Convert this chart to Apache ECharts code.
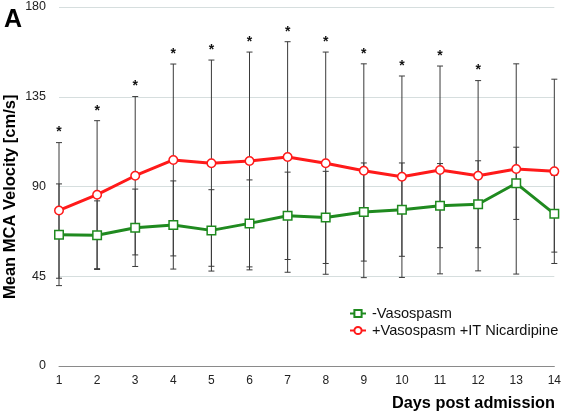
<!DOCTYPE html>
<html>
<head>
<meta charset="utf-8">
<script src="https://cdn.jsdelivr.net/npm/echarts@6/dist/echarts.min.js"></script>
<style>
html,body{margin:0;padding:0;background:#fff;}
#chart{width:564px;height:416px;}
</style>
</head>
<body>
<div id="chart"></div>
<script>
// ---- data ----
const days = [1, 2, 3, 4, 5, 6, 7, 8, 9, 10, 11, 12, 13, 14];
const yTicks = [0, 45, 90, 135, 180];
const nicardipineMean = [78.0, 85.9, 95.4, 103.3, 101.7, 102.8, 104.8, 101.7, 97.9, 94.9, 98.3, 95.4, 98.8, 97.6];
const nicardipineErr  = [34.0, 37.1, 39.7, 48.1, 51.7, 54.6, 57.8, 55.7, 53.6, 50.5, 52.1, 47.7, 52.7, 46.2];
const noSpasmMean = [65.8, 65.6, 69.3, 70.7, 68.0, 71.5, 75.3, 74.5, 77.2, 78.4, 80.4, 81.1, 91.6, 76.3];
const noSpasmErr  = [25.5, 17.2, 19.4, 22.1, 20.4, 21.8, 21.9, 23.1, 24.6, 23.4, 21.1, 21.8, 18.1, 19.2];
const significant = [1, 1, 1, 1, 1, 1, 1, 1, 1, 1, 1, 1, 0, 0];
const seriesNames = ['-Vasospasm', '+Vasospasm +IT Nicardipine'];

const FONT = '"Liberation Sans", Arial, Helvetica, sans-serif';
const GREEN = '#1f8a1f';
const RED = '#ff1a1a';

const pairs = (means) => days.map((d, i) => [d, means[i]]);
const errData = (means, errs) => days.map((d, i) => [d, means[i] - errs[i], means[i] + errs[i]]);
const starData = days.map((d, i) => [d, nicardipineMean[i] + nicardipineErr[i]]).filter((_, i) => significant[i]);

function errRender(params, api) {
  const x = api.value(0), lo = api.value(1), hi = api.value(2);
  const pHi = api.coord([x, hi]), pLo = api.coord([x, lo]);
  const w = 3;
  const st = { stroke: '#3a3a3a', lineWidth: 1 };
  return {
    type: 'group',
    children: [
      { type: 'line', shape: { x1: pHi[0], y1: pHi[1], x2: pLo[0], y2: pLo[1] }, style: st },
      { type: 'line', shape: { x1: pHi[0] - w, y1: pHi[1], x2: pHi[0] + w, y2: pHi[1] }, style: st },
      { type: 'line', shape: { x1: pLo[0] - w, y1: pLo[1], x2: pLo[0] + w, y2: pLo[1] }, style: st }
    ]
  };
}

function starRender(params, api) {
  const p = api.coord([api.value(0), api.value(1)]);
  return {
    type: 'text',
    x: p[0], y: p[1] - 3,
    style: { text: '*', fill: '#111', font: 'bold 14px ' + FONT, align: 'center', verticalAlign: 'bottom' }
  };
}

const chart = echarts.init(document.getElementById('chart'), null, { renderer: 'canvas' });
chart.setOption({
  animation: false,
  backgroundColor: '#fff',
  grid: { left: 59, right: 6, top: 7, bottom: 50, containLabel: false },
  graphic: [
    { type: 'text', left: 4, top: 8, style: { text: 'A', font: 'bold 25px ' + FONT, fill: '#000' } },
    { type: 'text', left: 392, top: 396, style: { text: 'Days post admission', font: 'bold 16.3px ' + FONT, fill: '#000' } },
    { type: 'text', x: 2, y: 299, rotation: Math.PI / 2, style: { text: 'Mean MCA Velocity [cm/s]', font: 'bold 16.5px ' + FONT, fill: '#000', verticalAlign: 'top', align: 'left' }, originX: 0, originY: 0 }
  ],
  legend: {
    orient: 'vertical',
    left: 344,
    top: 301,
    itemGap: 2,
    itemWidth: 16,
    itemHeight: 9,
    data: seriesNames,
    textStyle: { fontFamily: FONT, fontSize: 14.6, color: '#111', padding: [0, 0, 0, 1] }
  },
  xAxis: {
    type: 'value',
    min: 1, max: 14, interval: 1,
    axisLine: { show: true, lineStyle: { color: '#8a8a8a', width: 1 } },
    axisTick: { show: false },
    splitLine: { show: false },
    axisLabel: { margin: 9, fontFamily: FONT, fontSize: 12, color: '#222' }
  },
  yAxis: {
    type: 'value',
    min: yTicks[0], max: yTicks[yTicks.length - 1], interval: 45,
    axisLine: { show: false },
    axisTick: { show: false },
    splitLine: { show: true, lineStyle: { color: '#d6dede', width: 1 } },
    axisLabel: { margin: 13, fontFamily: FONT, fontSize: 12.5, color: '#222' }
  },
  series: [
    { type: 'custom', name: 'errNic', renderItem: errRender, data: errData(nicardipineMean, nicardipineErr), z: 1, silent: true },
    { type: 'custom', name: 'errNo', renderItem: errRender, data: errData(noSpasmMean, noSpasmErr), z: 1, silent: true },
    { type: 'custom', name: 'stars', renderItem: starRender, data: starData, z: 1, silent: true },
    {
      type: 'line', name: seriesNames[0], data: pairs(noSpasmMean), z: 3,
      symbol: 'rect', symbolSize: 8.5, showAllSymbol: true,
      lineStyle: { color: GREEN, width: 3 },
      itemStyle: { color: '#fff', borderColor: GREEN, borderWidth: 1.5 }
    },
    {
      type: 'line', name: seriesNames[1], data: pairs(nicardipineMean), z: 3,
      symbol: 'circle', symbolSize: 8.5, showAllSymbol: true,
      lineStyle: { color: RED, width: 3 },
      itemStyle: { color: '#fff', borderColor: RED, borderWidth: 1.5 }
    }
  ]
});
</script>
</body>
</html>
